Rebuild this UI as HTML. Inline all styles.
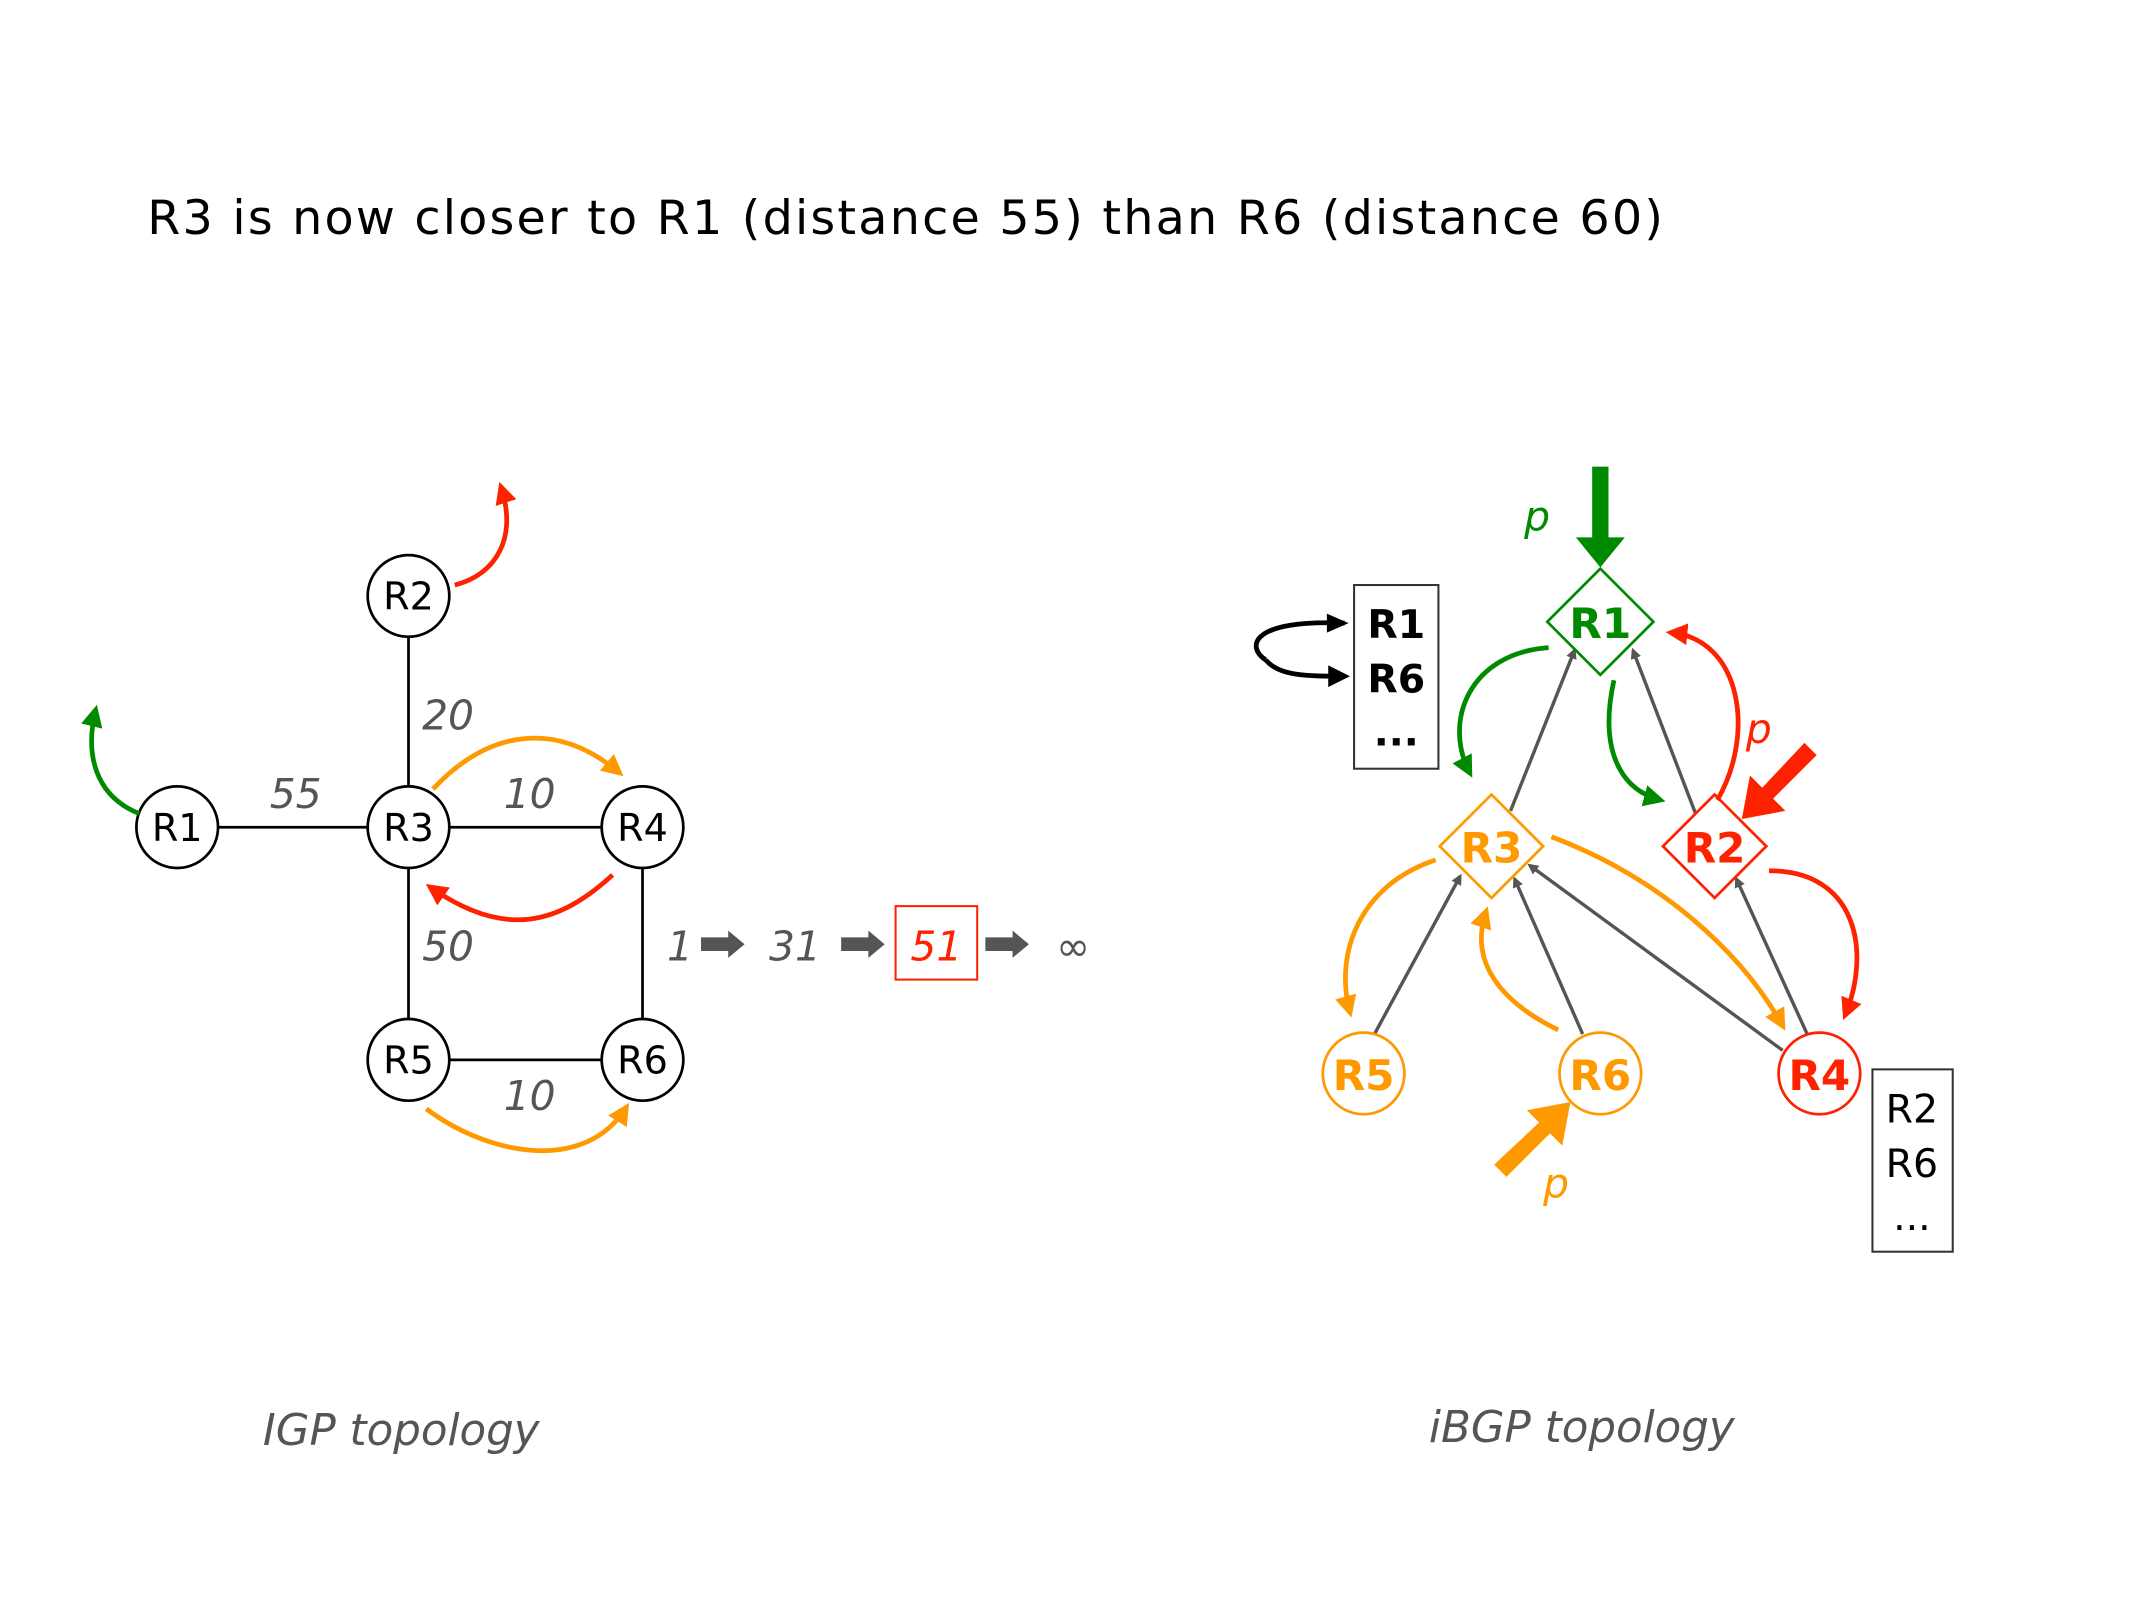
<!DOCTYPE html>
<html><head><meta charset="utf-8"><style>
html,body{margin:0;padding:0;background:#fff;}
svg{display:block;}
text{font-family:"DejaVu Sans","Liberation Sans",sans-serif;}
</style></head><body>
<svg width="2134" height="1600" viewBox="0 0 1568 1176" xmlns="http://www.w3.org/2000/svg">
<defs>
<marker id="ag" markerWidth="8" markerHeight="8" refX="6" refY="4" orient="auto" markerUnits="userSpaceOnUse" viewBox="0 0 8 8"><path d="M0,0 L8,4 L0,8 z" fill="#555"/></marker>
<marker id="aG" markerWidth="16" markerHeight="16" refX="12" refY="8" orient="auto" markerUnits="userSpaceOnUse" viewBox="0 0 16 16"><path d="M0,0 L16,8 L0,16 z" fill="#008a00"/></marker>
<marker id="aR" markerWidth="16" markerHeight="16" refX="12" refY="8" orient="auto" markerUnits="userSpaceOnUse" viewBox="0 0 16 16"><path d="M0,0 L16,8 L0,16 z" fill="#ff2200"/></marker>
<marker id="aO" markerWidth="16" markerHeight="16" refX="12" refY="8" orient="auto" markerUnits="userSpaceOnUse" viewBox="0 0 16 16"><path d="M0,0 L16,8 L0,16 z" fill="#ff9900"/></marker>
<marker id="aK" markerWidth="16" markerHeight="16" refX="12" refY="8" orient="auto" markerUnits="userSpaceOnUse" viewBox="0 0 16 16"><path d="M0,0 L16,8 L0,16 z" fill="#000"/></marker>
</defs>
<text x="108" y="172" font-size="35" fill="#000" textLength="1114" lengthAdjust="spacing">R3 is now closer to R1 (distance 55) than R6 (distance 60)</text>

<!-- IGP -->
<g stroke="#000" stroke-width="2">
<line x1="130" y1="608" x2="300" y2="608"/><line x1="300" y1="608" x2="472" y2="608"/>
<line x1="300" y1="438" x2="300" y2="779"/><line x1="300" y1="779" x2="472" y2="779"/>
<line x1="472" y1="608" x2="472" y2="779"/>
</g>
<g fill="#fff" stroke="#000" stroke-width="2">
<circle cx="300" cy="438" r="30"/><circle cx="130" cy="608" r="30"/><circle cx="300" cy="608" r="30"/>
<circle cx="472" cy="608" r="30"/><circle cx="300" cy="779" r="30"/><circle cx="472" cy="779" r="30"/>
</g>
<g font-size="28" text-anchor="middle" fill="#000">
<text x="300" y="448">R2</text><text x="130" y="618">R1</text><text x="300" y="618">R3</text>
<text x="472" y="618">R4</text><text x="300" y="789">R5</text><text x="472" y="789">R6</text>
</g>
<g font-size="30" font-style="italic" fill="#555">
<text x="310" y="536">20</text><text x="198" y="594">55</text><text x="370" y="594">10</text>
<text x="310" y="706">50</text><text x="370" y="816">10</text>
</g>
<g fill="none" stroke-width="3.5">
<path d="M334,430 C365,422 380,395 368,358" stroke="#ff2200" marker-end="url(#aR)"/>
<path d="M102,598 C70,585 62,555 70,522" stroke="#008a00" marker-end="url(#aG)"/>
<path d="M318,580 C360,535 410,530 455,568" stroke="#ff9900" marker-end="url(#aO)"/>
<path d="M450,643 C410,680 370,690 316,652" stroke="#ff2200" marker-end="url(#aR)"/>
<path d="M313,815 C360,850 430,862 460,814" stroke="#ff9900" marker-end="url(#aO)"/>
</g>
<g font-size="30" font-style="italic" fill="#555">
<text x="490" y="706">1</text><text x="565" y="706">31</text><text x="776" y="706">∞</text>
</g>
<rect x="658" y="666" width="60" height="54" fill="none" stroke="#ff2200" stroke-width="1.5"/>
<text x="688" y="706" font-size="30" font-style="italic" fill="#ff2200" text-anchor="middle">51</text>
<g fill="#555">
<path d="M515,689 h20 v-5 l12,10 l-12,10 v-5 h-20z"/>
<path d="M618,689 h20 v-5 l12,10 l-12,10 v-5 h-20z"/>
<path d="M724,689 h20 v-5 l12,10 l-12,10 v-5 h-20z"/>
</g>
<text x="193" y="1062" font-size="32" font-style="italic" fill="#555">IGP topology</text>

<!-- iBGP -->
<g stroke="#555" stroke-width="2.5" marker-end="url(#ag)">
<line x1="1110" y1="596" x2="1157" y2="478"/>
<line x1="1246" y1="598" x2="1200" y2="478"/>
<line x1="1010" y1="760" x2="1073" y2="644"/>
<line x1="1163" y1="760" x2="1113" y2="646"/>
<line x1="1310" y1="772" x2="1124" y2="636"/>
<line x1="1328" y1="760" x2="1276" y2="646"/>
</g>
<g fill="#fff" stroke-width="2">
<path d="M1176,418 L1215,457 L1176,496 L1137,457z" stroke="#008a00"/>
<path d="M1096,584 L1134,622 L1096,660 L1058,622z" stroke="#ff9900"/>
<path d="M1260,584 L1298,622 L1260,660 L1222,622z" stroke="#ff2200"/>
<circle cx="1002" cy="789" r="30" stroke="#ff9900"/>
<circle cx="1176" cy="789" r="30" stroke="#ff9900"/>
<circle cx="1337" cy="789" r="30" stroke="#ff2200"/>
</g>
<g font-size="31" font-weight="bold" text-anchor="middle">
<text x="1176" y="469" fill="#008a00">R1</text>
<text x="1096" y="634" fill="#ff9900">R3</text>
<text x="1260" y="634" fill="#ff2200">R2</text>
<text x="1002" y="801" fill="#ff9900">R5</text>
<text x="1176" y="801" fill="#ff9900">R6</text>
<text x="1337" y="801" fill="#ff2200">R4</text>
</g>
<g fill="none" stroke-width="3.5">
<path d="M1138,476 C1080,480 1060,530 1080,568" stroke="#008a00" marker-end="url(#aG)"/>
<path d="M1186,500 C1175,550 1190,580 1220,588" stroke="#008a00" marker-end="url(#aG)"/>
<path d="M1262,588 C1290,540 1280,470 1228,465" stroke="#ff2200" marker-end="url(#aR)"/>
<path d="M1300,640 C1365,640 1375,700 1356,746" stroke="#ff2200" marker-end="url(#aR)"/>
<path d="M1055,632 C1000,650 980,700 992,744" stroke="#ff9900" marker-end="url(#aO)"/>
<path d="M1145,757 C1100,735 1080,705 1092,670" stroke="#ff9900" marker-end="url(#aO)"/>
<path d="M1140,615 C1220,645 1280,700 1310,754" stroke="#ff9900" marker-end="url(#aO)"/>
<path d="M988,458 C920,455 915,475 930,485" stroke="#000"/>
<path d="M930,485 C940,497 960,497 988,497" stroke="#000" marker-end="url(#aK)"/>
</g>
<path d="M975,451 L991,458 L975,465z" fill="#000"/>
<!-- thick arrows -->
<path d="M1170,343 h12 v52 h12 l-18,22 l-18,-22 h12z" fill="#008a00"/>
<path d="M1326,546 l9,9 l-32,32 l9,9 l-32,6 l6,-32 l9,9z" fill="#ff2200"/>
<path d="M1098,856 l9,9 l32,-32 l9,9 l6,-32 l-32,6 l9,9z" fill="#ff9900"/>
<g font-size="30" font-style="italic">
<text x="1120" y="390" fill="#008a00">p</text>
<text x="1283" y="546" fill="#ff2200">p</text>
<text x="1134" y="880" fill="#ff9900">p</text>
</g>
<rect x="995" y="430" width="62" height="135" fill="#fff" stroke="#333" stroke-width="1.5"/>
<g font-size="29" font-weight="bold" fill="#000" text-anchor="middle">
<text x="1026" y="469">R1</text><text x="1026" y="509">R6</text><text x="1026" y="548">...</text>
</g>
<rect x="1376" y="786" width="59" height="134" fill="#fff" stroke="#333" stroke-width="1.5"/>
<g font-size="29" fill="#000" text-anchor="middle">
<text x="1405" y="825">R2</text><text x="1405" y="865">R6</text><text x="1405" y="904">...</text>
</g>
<text x="1050" y="1060" font-size="32" font-style="italic" fill="#555">iBGP topology</text>
</svg>
</body></html>
